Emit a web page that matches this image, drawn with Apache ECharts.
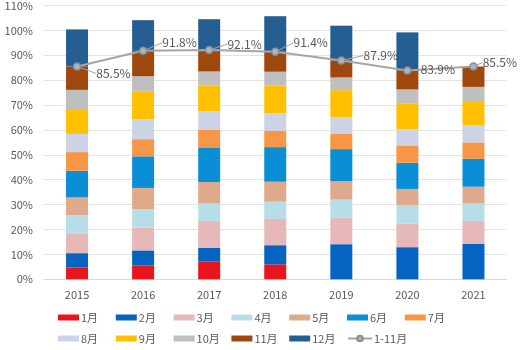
<!DOCTYPE html>
<html>
<head>
<meta charset="utf-8">
<script src="https://cdn.jsdelivr.net/npm/echarts@6/dist/echarts.min.js"></script>
<style>
  html, body { margin: 0; padding: 0; background: #fff; }
  #chart { width: 522px; height: 350px; }
</style>
</head>
<body>
<div id="chart"></div>
<script>
// 年份
var years = ['2015', '2016', '2017', '2018', '2019', '2020', '2021'];
// 各月占比 (%)
var m1  = [4.7, 5.5, 7.1, 6.0, 0, 0, 0];
var m2  = [5.8, 6.1, 5.6, 7.7, 14.1, 12.9, 14.2];
var m3  = [8.0, 9.1, 10.7, 10.5, 10.6, 9.4, 9.2];
var m4  = [7.2, 7.4, 7.0, 7.0, 7.3, 7.4, 7.0];
var m5  = [7.2, 8.6, 8.7, 8.0, 7.4, 6.6, 6.8];
var m6  = [10.7, 12.7, 13.9, 13.9, 12.9, 10.5, 11.2];
var m7  = [7.5, 6.9, 7.0, 6.6, 6.3, 7.0, 6.6];
var m8  = [7.3, 8.0, 7.5, 7.1, 6.5, 6.6, 7.0];
var m9  = [10.0, 11.0, 10.3, 11.0, 10.9, 10.1, 9.6];
var m10 = [7.7, 6.3, 5.7, 5.6, 5.1, 5.8, 5.7];
var m11 = [9.4, 10.2, 8.6, 8.0, 6.8, 7.6, 8.2];
var m12 = [14.9, 12.3, 12.4, 14.3, 14.0, 15.3, 0];
// 1-11月累计
var cum111 = [85.5, 91.8, 92.1, 91.4, 87.9, 83.9, 85.5];

var monthNames = ['1月', '2月', '3月', '4月', '5月', '6月', '7月', '8月', '9月', '10月', '11月', '12月'];
var monthData = [m1, m2, m3, m4, m5, m6, m7, m8, m9, m10, m11, m12];
var colors = ['#E8141E', '#0563C1', '#E6B8B7', '#B7DEE8', '#DFAA8B', '#0A8FD6',
              '#F79646', '#CCD3E6', '#FFC000', '#BFBFBF', '#9E480E', '#255E91'];

// 标签偏移 (模拟excel引导线)
var labelShift = [[10, 7], [10, -8], [9, -6], [9, -9], [13, -5], [4, -1], [0, -4]];

var font = '"Noto Sans CJK SC", "Noto Sans", sans-serif';
var txt = '#595959';

var series = [];
monthNames.forEach(function (n, i) {
  series.push({
    name: n,
    type: 'bar',
    stack: 'all',
    barWidth: 22,
    itemStyle: { color: colors[i] },
    data: monthData[i]
  });
});
series.push({
  name: '1-11月',
  type: 'line',
  data: cum111,
  z: 5,
  symbol: 'circle',
  symbolSize: 7,
  lineStyle: { color: '#A5A5A5', width: 2 },
  itemStyle: { color: '#A9B4C2', borderColor: '#8E8E8E', borderWidth: 1.5 },
  label: {
    show: true,
    position: 'right',
    formatter: '{c}%',
    color: txt,
    fontSize: 12,
    fontFamily: font
  },
  labelLine: { show: true, lineStyle: { color: '#A5A5A5', width: 1 } },
  labelLayout: function (p) {
    var s = labelShift[p.dataIndex];
    return { dx: s[0], dy: s[1] };
  }
});

// 图例: 每项单独定位, 两行七列
var legends = monthNames.concat(['1-11月']).map(function (n, i) {
  var col = i % 7, row = Math.floor(i / 7);
  var isLine = n === '1-11月';
  return {
    left: 58 + col * 57.8,
    top: 312 + row * 21,
    padding: 0,
    itemWidth: isLine ? 24 : 21,
    itemHeight: isLine ? 7 : 6,
    icon: isLine ? undefined : 'rect',
    textStyle: { color: txt, fontSize: 11, fontFamily: font, padding: [0, 0, 0, -3] },
    data: [n]
  };
});

var chart = echarts.init(document.getElementById('chart'));
chart.setOption({
  animation: false,
  backgroundColor: '#fff',
  grid: { left: 44, right: 15.5, top: 5.3, bottom: 70.7 },
  legend: legends,
  xAxis: {
    type: 'category',
    data: years,
    axisLine: { lineStyle: { color: '#D9D9D9' } },
    axisTick: { show: false },
    axisLabel: { color: txt, fontSize: 11, fontFamily: font, margin: 10 }
  },
  yAxis: {
    type: 'value',
    min: 0,
    max: 110,
    interval: 10,
    axisLine: { show: false },
    axisTick: { show: false },
    splitLine: { lineStyle: { color: '#E3E3E3' } },
    axisLabel: { formatter: '{value}%', color: txt, fontSize: 11, fontFamily: font, margin: 11 }
  },
  series: series
});
</script>
</body>
</html>
